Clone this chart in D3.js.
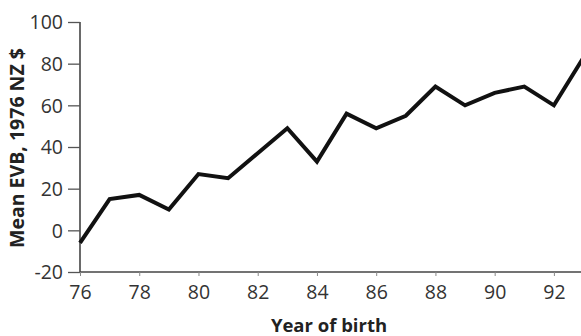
<!DOCTYPE html>
<html><head><meta charset="utf-8">
<script src="https://cdn.jsdelivr.net/npm/d3@7"></script>
<style>
body{margin:0;background:#fff;}
svg{display:block;}
.tick text{font-family:"Open Sans",sans-serif;font-size:19.5px;fill:#333;}
.lab{font-family:"Open Sans",sans-serif;font-weight:700;fill:#222;}
</style></head>
<body>
<svg id="c" width="581" height="336"></svg>
<script>
const years = [76,77,78,79,80,81,82,83,84,85,86,87,88,89,90,91,92,93];
const evb = [-6,15,17,10,27,25,37,49,33,56,49,55,69,60,66,69,60,83];
const xTicks = [76,78,80,82,84,86,88,90,92];
const yTicks = [-20,0,20,40,60,80,100];

const svg = d3.select("#c");
const x = d3.scaleLinear().domain([76,93.05]).range([80,585]);
const y = d3.scaleLinear().domain([-20,100]).range([272,22]);

const gx = svg.append("g").attr("transform","translate(0,272)")
  .call(d3.axisBottom(x).tickValues(xTicks).tickSize(4).tickPadding(9).tickFormat(d3.format("d")));
gx.select(".domain").attr("d","M80,0H581").attr("stroke","#444").attr("stroke-width",1.6);
gx.selectAll(".tick line").attr("stroke","#888").attr("stroke-width",1);

const gy = svg.append("g").attr("transform","translate(80,0)")
  .call(d3.axisLeft(y).tickValues(yTicks).tickSize(12).tickPadding(5).tickFormat(d => String(d)));
gy.select(".domain").attr("d","M0,22V272").attr("stroke","#444").attr("stroke-width",1.6);
gy.selectAll(".tick line").attr("stroke","#555").attr("stroke-width",1.3);
gy.selectAll(".tick text").attr("dy","0.35em");

svg.append("path").datum(years.map((d,i)=>[d,evb[i]]))
  .attr("fill","none").attr("stroke","#111").attr("stroke-width",4)
  .attr("stroke-linejoin","miter")
  .attr("d", d3.line().x(d=>x(d[0])).y(d=>y(d[1])));

svg.append("text").attr("class","lab").attr("x",329).attr("y",332)
  .attr("font-size",18.5).attr("text-anchor","middle").text("Year of birth");
svg.append("text").attr("class","lab").attr("transform","translate(24,148) rotate(-90)")
  .attr("font-size",19.5).attr("text-anchor","middle").text("Mean EVB, 1976 NZ $");
</script>
</body></html>
